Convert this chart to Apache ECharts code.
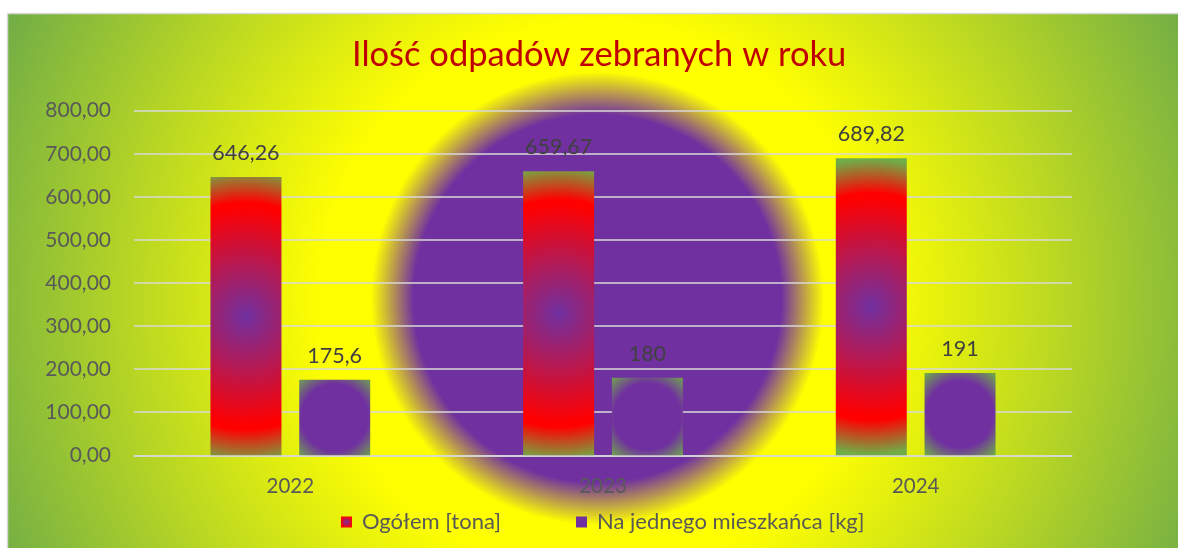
<!DOCTYPE html>
<html>
<head>
<meta charset="utf-8">
<script src="https://cdn.jsdelivr.net/npm/echarts@6/dist/echarts.min.js"></script>
<style>
html,body{margin:0;padding:0;background:#fff;}
#chart{width:1178px;height:548px;}
</style>
</head>
<body>
<div id="chart"></div>
<script>
// ---- data ----
const titleText = 'Ilość odpadów zebranych w roku';
const categories = ['2022', '2023', '2024'];
const seriesNames = ['Ogółem [tona]', 'Na jednego mieszkańca [kg]'];
const totalTons = [646.26, 659.67, 689.82];
const perResidentKg = [175.6, 180, 191];
const yTicks = [0, 100, 200, 300, 400, 500, 600, 700, 800];

// ---- styles ----
const FONT = 'Lato';
const PURPLE = '#7030A0', RED = '#FF0000', GREEN = '#70AD47', YELLOW = '#FFFF00';
const RG = echarts.graphic.RadialGradient;

const bgGradient = new RG(0.5, 0.5, 1.149, [
  {offset: 0, color: PURPLE},
  {offset: 0.28, color: PURPLE},
  {offset: 0.345, color: YELLOW},
  {offset: 0.42, color: YELLOW},
  {offset: 1, color: GREEN}
]);
const redBar = new RG(0.5, 0.5, 2.08, [
  {offset: 0, color: PURPLE},
  {offset: 0.74, color: RED},
  {offset: 0.77, color: RED},
  {offset: 1, color: GREEN}
]);
const purpleBar = new RG(0.5, 0.5, 0.76, [
  {offset: 0, color: PURPLE},
  {offset: 0.62, color: PURPLE},
  {offset: 1, color: GREEN}
]);
const redIcon = new RG(0.5, 0.5, 0.7, [
  {offset: 0, color: PURPLE},
  {offset: 0.75, color: RED},
  {offset: 1, color: RED}
]);

const comma = (v, d) => (d == null ? String(v) : v.toFixed(d)).replace('.', ',');

const chart = echarts.init(document.getElementById('chart'), null, {renderer: 'canvas'});
chart.setOption({
  animation: false,
  backgroundColor: '#ffffff',
  graphic: [{
    type: 'rect',
    z: -100,
    silent: true,
    shape: {x: 7.5, y: 13.5, width: 1180, height: 570},
    style: {fill: bgGradient, stroke: '#d9d9d9', lineWidth: 1.5}
  }],
  title: {
    text: titleText,
    left: 347,
    top: 32,
    textStyle: {fontFamily: FONT, fontSize: 34.5, fontWeight: 'normal', color: '#C00000'}
  },
  legend: {
    data: [
      {name: seriesNames[0], itemStyle: {color: redIcon}},
      {name: seriesNames[1], itemStyle: {color: PURPLE}}
    ],
    left: 336,
    top: 506,
    itemWidth: 11,
    itemHeight: 11,
    itemGap: 75,
    icon: 'rect',
    textStyle: {fontFamily: FONT, fontSize: 22, color: '#595959', padding: [0, 0, 0, 5]}
  },
  grid: {left: 134, right: 106, top: 110.7, bottom: 92.7},
  xAxis: {
    type: 'category',
    data: categories,
    axisLine: {show: true, lineStyle: {color: '#d9d9d9', width: 1.5}},
    axisTick: {show: false},
    axisLabel: {fontFamily: FONT, fontSize: 20.5, color: '#595959', margin: 21}
  },
  yAxis: {
    type: 'value',
    min: yTicks[0],
    max: yTicks[yTicks.length - 1],
    interval: yTicks[1] - yTicks[0],
    axisLine: {show: false},
    axisTick: {show: false},
    splitLine: {lineStyle: {color: '#d9d9d9', width: 1.5}},
    axisLabel: {fontFamily: FONT, fontSize: 21, color: '#595959', margin: 23,
      formatter: v => comma(v, 2)}
  },
  series: [
    {
      name: seriesNames[0],
      type: 'bar',
      data: totalTons,
      barWidth: 71,
      barGap: '25%',
      itemStyle: {color: redBar},
      label: {show: true, position: 'top', distance: 13, fontFamily: FONT, fontSize: 21.5,
        color: '#404040', formatter: p => comma(p.value, 2)}
    },
    {
      name: seriesNames[1],
      type: 'bar',
      data: perResidentKg,
      barWidth: 71,
      barGap: '25%',
      itemStyle: {color: purpleBar},
      label: {show: true, position: 'top', distance: 13, fontFamily: FONT, fontSize: 21.5,
        color: '#404040', formatter: p => comma(p.value)}
    }
  ]
});
</script>
</body>
</html>
